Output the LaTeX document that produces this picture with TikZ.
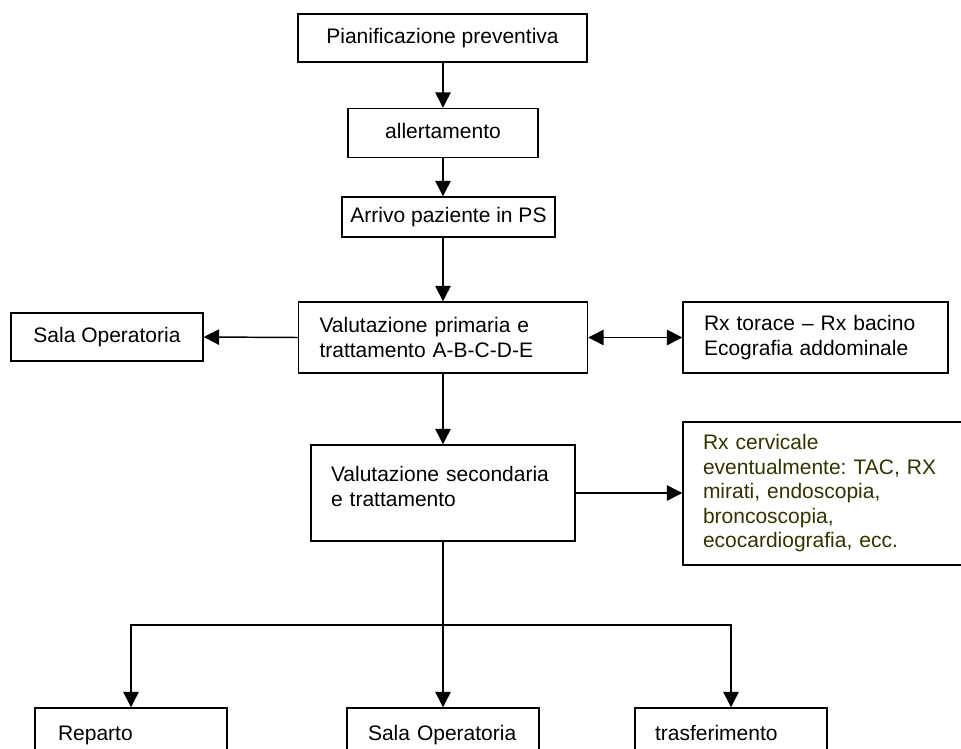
\documentclass[tikz,border=0pt]{standalone}
\usepackage{fontspec}
\setmainfont{Liberation Sans}
\usetikzlibrary{arrows.meta}
\definecolor{olivetext}{RGB}{51,51,0}
\frenchspacing
\begin{document}
\begin{tikzpicture}[x=0.75pt,y=-0.75pt,
  box/.style={draw, line width=1.1pt, inner sep=0pt,
    font=\fontsize{15.75}{18.4}\selectfont},
  sz/.style 2 args={minimum width=#1*0.75pt, minimum height=#2*0.75pt},
  lefttext/.style={align=left, text width=#1*0.75pt},
  oneline/.style={text height=11.3pt, text depth=3.3pt},
  conn/.style={line width=1.1pt},
  link/.style={conn, -{Triangle[length=11.5pt,width=11.5pt]}},
  both/.style={conn, {Triangle[length=11.5pt,width=11.5pt]}-{Triangle[length=11.5pt,width=11.5pt]}},
]
\useasboundingbox (0,0) rectangle (961,749);
\clip (0,0) rectangle (961,749);

% main chain
\node[box, oneline, sz={289}{48}] (plan) at (442.5,38) {Pianificazione preventiva};
\node[box, oneline, sz={190}{49}] (alert) at (443,133) {allertamento};
\node[box, oneline, sz={213}{40}] (arrivo) at (448.5,217) {Arrivo paziente in PS};
\node[box, sz={289}{71}, lefttext=247] (vp) at (443,337.5)
  {Valutazione primaria e\\trattamento A-B-C-D-E};
\node[box, oneline, sz={192}{48}] (salaL) at (107,337) {Sala Operatoria};
\node[box, sz={265}{71}, lefttext=223] (rxt) at (815.5,337.5)
  {Rx torace -- Rx bacino\\Ecografia addominale};
\node[box, sz={264}{96}, lefttext=224] (vs) at (443,493)
  {\strut\\[-6pt]Valutazione secondaria\\e trattamento\\\strut};
\node[box, sz={302}{143}, lefttext=262, text=olivetext] (rxc) at (834,493.5)
  {Rx cervicale\\eventualmente: TAC, RX\\mirati, endoscopia,\\broncoscopia,\\ecocardiografia, ecc.};

% outcomes
\node[box, oneline, sz={192}{54}, lefttext=146] (rep) at (131,735) {Reparto};
\node[box, oneline, sz={192}{54}, lefttext=150] (sob) at (443,735) {Sala Operatoria};
\node[box, oneline, sz={192}{54}, lefttext=152] (tra) at (731,735) {trasferimento};

% connectors
\draw[link] (plan.south -| alert.north) -- (alert.north);
\draw[link] (alert.south) -- (alert.south |- arrivo.north);
\draw[link] (vp.north |- arrivo.south) -- (vp.north);
\draw[link] (vp.west) -- (salaL.east);
\draw[both] (vp.east) -- (rxt.west);
\draw[link] (vs.north |- vp.south) -- (vs.north);
\draw[link] (vs.east) -- (vs.east -| rxc.west);

\coordinate (split) at (443,625);
\draw[conn] (vs.south -| split) -- (split);
\draw[link] (split) -- (sob.north);
\draw[link] (split) -| (rep.north);
\draw[link] (split) -| (tra.north);
\end{tikzpicture}
\end{document}
